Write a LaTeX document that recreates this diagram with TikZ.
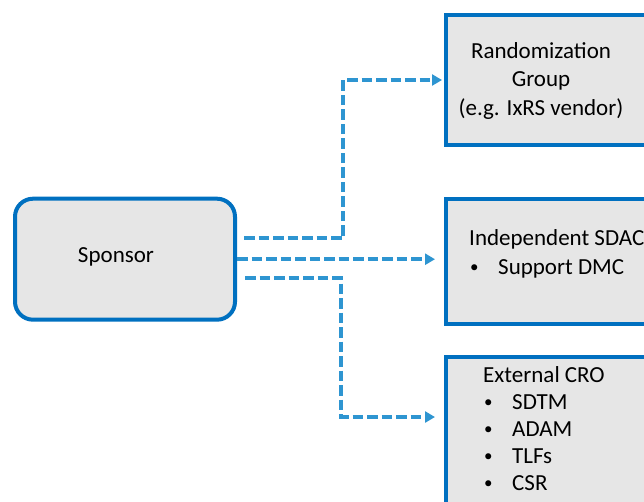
\documentclass[tikz,border=0pt]{standalone}
\usepackage{fontspec}
\setmainfont{Carlito}
\usetikzlibrary{arrows.meta,calc}
\definecolor{boxblue}{HTML}{0070C0}
\definecolor{linkblue}{HTML}{2E95D1}
\definecolor{boxgray}{HTML}{E6E6E6}
\newcommand{\bul}{\makebox[29pt][l]{\hspace{1pt}\raisebox{1.5pt}{\fontsize{17}{17}\selectfont •}}}
\begin{document}
\begin{tikzpicture}[x=1pt,y=-1pt,
  panel/.style={draw=boxblue, line width=4pt, fill=boxgray, rectangle, inner sep=0pt},
  txt/.style={inner sep=0pt, align=left},
  link/.style={draw=linkblue, line width=3.5pt, dash pattern=on 10.5pt off 4pt,
    -{Triangle[length=10pt,width=11pt]}}]
\path[use as bounding box] (0,0) rectangle (644,501);
\clip (0,0) rectangle (644,501);

% boxes
\node[panel, rounded corners=18pt, minimum width=220pt, minimum height=121pt]
  (sp) at (125,259.2) {};
\node[panel, anchor=north west, minimum width=250pt, minimum height=130pt]
  (rg) at (444,13) {};
\node[panel, anchor=north west, minimum width=250pt, minimum height=125pt]
  (sdac) at (444,197) {};
\node[panel, anchor=north west, minimum width=250pt, minimum height=200pt]
  (cro) at (444,354.7) {};

% texts
\node[txt, anchor=base, font=\fontsize{23}{28}\selectfont] (sptxt) at (116,262.3) {Sponsor};
\node[txt, align=center, anchor=north, font=\fontsize{23}{28.5}\selectfont]
  (rgtxt) at (541,{58-0.7*28.5}) {\strut Randomization\\Group\\(e.g. IxRS vendor)};
\node[txt, anchor=north west, font=\fontsize{23}{29}\selectfont]
  (sdactxt) at (469,{245-0.7*29}) {\strut Independent SDAC\\\bul Support DMC};
\node[txt, anchor=north west, font=\fontsize{23}{27}\selectfont]
  (crotxt) at (483,{382-0.7*27}) {\strut External CRO\\\bul SDTM\\\bul ADAM\\\bul TLFs\\\bul CSR};

% connectors
\draw[link, shorten >=2pt] ($(sp.east)+(7,-21.2)$) -- ++(99,0) |- (rg.west);
\draw[link, shorten >=9pt] (sp.east) -- (sp.east -| sdac.west);
\draw[link] ($(sp.east)+(8,18.8)$) -- ++(96,0) |- ($(cro.north west)+(-9,62.3)$);
\end{tikzpicture}
\end{document}
